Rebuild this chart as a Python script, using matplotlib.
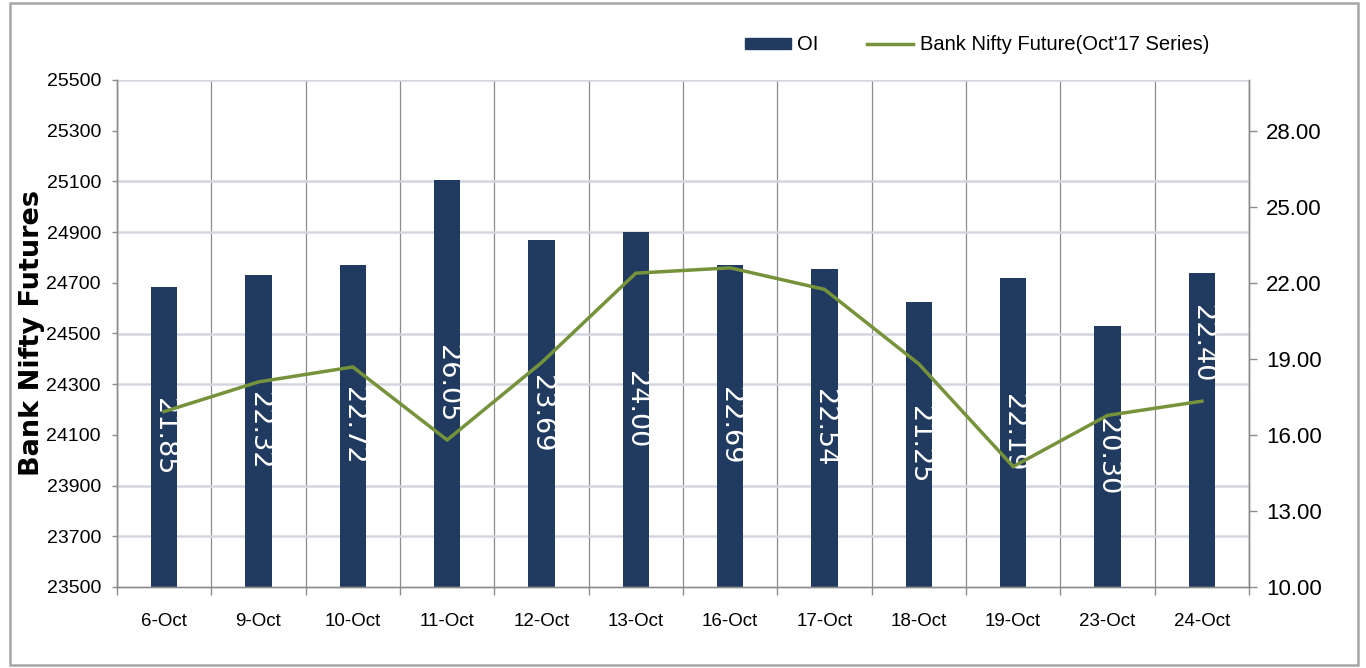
import matplotlib
matplotlib.use('Agg')
import matplotlib.pyplot as plt
from matplotlib.patches import Rectangle, FancyBboxPatch
from matplotlib.lines import Line2D
from matplotlib.ticker import FixedLocator, FuncFormatter
import numpy as np

# ---- data ----
dates = ['6-Oct', '9-Oct', '10-Oct', '11-Oct', '12-Oct', '13-Oct',
         '16-Oct', '17-Oct', '18-Oct', '19-Oct', '23-Oct', '24-Oct']
oi = [21.85, 22.32, 22.72, 26.05, 23.69, 24.00, 22.69, 22.54, 21.25, 22.19, 20.30, 22.40]
futures = [24192, 24309, 24368, 24080, 24385, 24738, 24759, 24674, 24380, 23975, 24177, 24233]
left_ticks = [23500, 23700, 23900, 24100, 24300, 24500, 24700, 24900, 25100, 25300, 25500]
right_ticks = [10, 13, 16, 19, 22, 25, 28]
oi_label = 'OI'
fut_label = "Bank Nifty Future(Oct'17 Series)"
y_title = 'Bank Nifty Futures'

# ---- style ----
BAR = '#203A60'
LINE = '#76933C'
HGRID = '#D3D6DF'
VGRID = '#8C8C8C'
SPINE = '#8C8C8C'
NARROW = ['Liberation Sans Narrow', 'Liberation Sans', 'DejaVu Sans']

fig = plt.figure(figsize=(13.66, 6.68), dpi=100)
fig.patch.set_facecolor('white')

L, R, B, T = 117 / 1366, 1249 / 1366, 1 - 587 / 668, 1 - 80 / 668
ax = fig.add_axes([L, B, R - L, T - B])   # bars (right scale)
ax2 = ax.twinx()                          # line (left scale)

x = np.arange(len(dates))
ax.bar(x, oi, width=0.28, color=BAR, zorder=2)
ax.set_ylim(10, 30)
ax.set_xlim(-0.5, len(dates) - 0.5)

# bar labels
label_center_override = {11: 19.6}
for i, v in enumerate(oi):
    yc = label_center_override.get(i, (10 + v) / 2)
    ax.text(i, yc, f'{v:.2f}', rotation=-90, ha='center', va='center',
            color='white', fontsize=19.5, family='DejaVu Sans', zorder=3)

# right axis ticks (on primary ax)
ax.yaxis.tick_right()
ax.yaxis.set_major_locator(FixedLocator(right_ticks))
ax.yaxis.set_major_formatter(FuncFormatter(lambda v, p: f'{v:.2f}'))
ax.tick_params(axis='y', which='major', direction='out', length=5.8, width=1,
               color=SPINE, pad=6.5, labelsize=16)
for lab in ax.get_yticklabels():
    lab.set_family(NARROW)

# horizontal gridlines at the left-axis values (every 2 on right scale)
ax.yaxis.set_minor_locator(FixedLocator(np.arange(10, 30.01, 2)))
ax.tick_params(axis='y', which='minor', length=0)
ax.grid(axis='y', which='minor', color=HGRID, lw=1.8, zorder=0)
ax.set_axisbelow(True)

# x axis: labels at centres, ticks/grid at boundaries
ax.set_xticks(x)
ax.set_xticklabels(dates)
ax.set_xticks(np.arange(-0.5, len(dates)), minor=True)
ax.tick_params(axis='x', which='major', length=0, pad=19, labelsize=13.5)
ax.tick_params(axis='x', which='minor', length=6, width=1, color=SPINE, direction='out')
ax.grid(axis='x', which='minor', color=VGRID, lw=0.9)
for lab in ax.get_xticklabels():
    lab.set_family(NARROW)

# line on left axis
ax2.plot(x, futures, color=LINE, lw=2.5, solid_joinstyle='miter', zorder=4)
ax2.set_ylim(23500, 25500)
ax2.yaxis.tick_left()
ax2.set_yticks(left_ticks)
ax2.set_yticklabels([str(t) for t in left_ticks])
ax2.tick_params(axis='y', direction='out', length=3.6, width=1, color=SPINE,
                pad=8, labelsize=14)
for lab in ax2.get_yticklabels():
    lab.set_family(NARROW)

for a in (ax, ax2):
    for s in ('left', 'right', 'bottom'):
        a.spines[s].set_color(SPINE)
        a.spines[s].set_linewidth(1)
    a.spines['top'].set_visible(False)

fig.text(32 / 1366, (T + B) / 2, y_title, rotation=90, ha='center', va='center',
         fontsize=19.5, fontweight='bold', family='DejaVu Sans')

handles = [Rectangle((0, 0), 1, 1, color=BAR), Line2D([], [], color=LINE, lw=2.5)]
fig.legend(handles, [oi_label, fut_label], loc='center', bbox_to_anchor=(977 / 1366, 1 - 45 / 668),
           ncol=2, frameon=False, handlelength=2.3, handleheight=0.5, handletextpad=0.3,
           columnspacing=2.4, prop={'family': NARROW, 'size': 14.5})

fig.patches.append(FancyBboxPatch((10 / 1366, 3 / 668), 1348 / 1366, 662 / 668,
                                  boxstyle='square,pad=0', transform=fig.transFigure,
                                  fill=False, edgecolor='#A6A6A6', lw=1.8))

fig.savefig('out.png', dpi=100)
